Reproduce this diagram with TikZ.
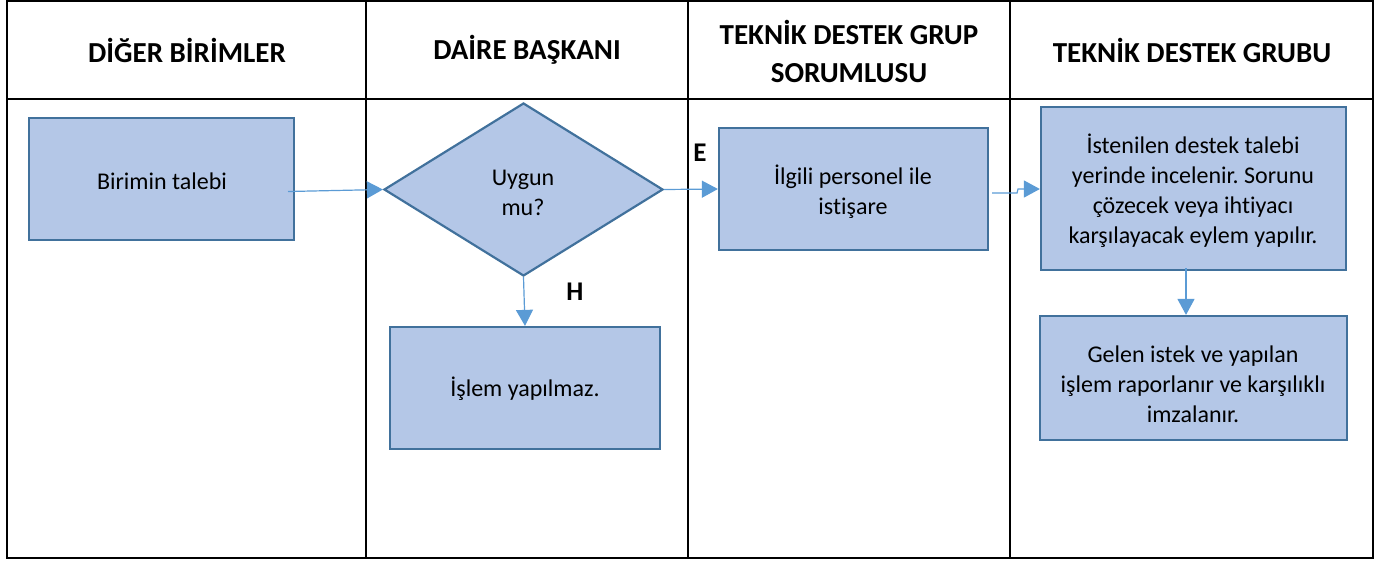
\documentclass[tikz,border=0pt]{standalone}
\usepackage{fontspec}
\setmainfont{Carlito}[Ligatures=NoCommon]
\usetikzlibrary{shapes.geometric,arrows.meta}
\frenchspacing
\definecolor{boxfill}{HTML}{B4C7E7}
\definecolor{boxline}{HTML}{41719C}
\definecolor{arrowc}{HTML}{5B9BD5}
\tikzset{
  grid/.style={line width=2.5pt,black},
  head/.style={font=\fontsize{29}{38}\selectfont\bfseries,align=center},
  procbox/.style={draw=boxline,fill=boxfill,line width=2.2pt,inner sep=0pt},
  dec/.style={diamond,draw=boxline,fill=boxfill,line width=2.2pt,inner sep=0pt},
  txt/.style={font=\fontsize{24}{30}\selectfont,align=center,inner sep=0pt},
  conn/.style={draw=arrowc,line width=1.2pt,-{Triangle[length=16pt,width=17pt]}},
  lbl/.style={font=\fontsize{27}{30}\selectfont\bfseries}
}
\begin{document}
\begin{tikzpicture}[x=1pt,y=-1pt]
\useasboundingbox (0,0) rectangle (1376,563);
% table
\draw[grid] (7,1) rectangle (1373,558);
\draw[grid] (7,99) -- (1373,99);
\draw[grid] (366,1) -- (366,558);
\draw[grid] (688,1) -- (688,558);
\draw[grid] (1010,1) -- (1010,558);
% headers
\node[head] (h1) at (187,50) {DİĞER BİRİMLER};
\node[head] (h2) at (527,50) {DAİRE BAŞKANI};
\node[head] (h3) at (849,51) {TEKNİK DESTEK GRUP\\SORUMLUSU};
\node[head] (h4) at (1192,50) {TEKNİK DESTEK GRUBU};
% boxes
\node[procbox,minimum width=265pt,minimum height=122pt] (b1) at (161.5,179) {};
\node[txt] (t1) at (162,181) {Birimin talebi};
\node[dec,minimum width=279pt,minimum height=173pt] (d) at (523.5,189.5) {};
\node[txt] (td) at (523,193) {Uygun\\mu?};
\node[procbox,minimum width=270pt,minimum height=122pt] (b2) at (525,388) {};
\node[txt] (t2) at (525,389) {İşlem yapılmaz.};
\node[procbox,minimum width=269pt,minimum height=122pt] (b3) at (853.5,189) {};
\node[txt] (t3) at (853,192) {İlgili personel ile\\istişare};
\node[procbox,minimum width=305pt,minimum height=163pt] (b4) at (1193.5,188.5) {};
\node[txt] (t4) at (1193,191) {İstenilen destek talebi\\yerinde incelenir. Sorunu\\çözecek veya ihtiyacı\\karşılayacak eylem yapılır.};
\node[procbox,minimum width=307pt,minimum height=124pt] (b5) at (1193.5,378) {};
\node[txt] (t5) at (1193,384) {Gelen istek ve yapılan\\işlem raporlanır ve karşılıklı\\imzalanır.};
% labels
\node[lbl] (le) at (700,153) {E};
\node[lbl] (lh) at (575,292) {H};
% connectors
\coordinate (s1) at (288,191.5);
\draw[conn] (s1) -- (d.west);
\draw[conn] (d.east) -- (b3.west);
\coordinate (s3) at (992,193);
\coordinate (m3a) at (1017,193);
\coordinate (m3b) at (1018,189);
\draw[conn] (s3) -- (m3a) -- (m3b) -- (b4.west |- m3b);
\draw[conn] (d.south) -- (b2.north);
\coordinate (s4) at (1186,268);
\draw[conn] (s4) -- (s4 |- b5.north);
\end{tikzpicture}
\end{document}
